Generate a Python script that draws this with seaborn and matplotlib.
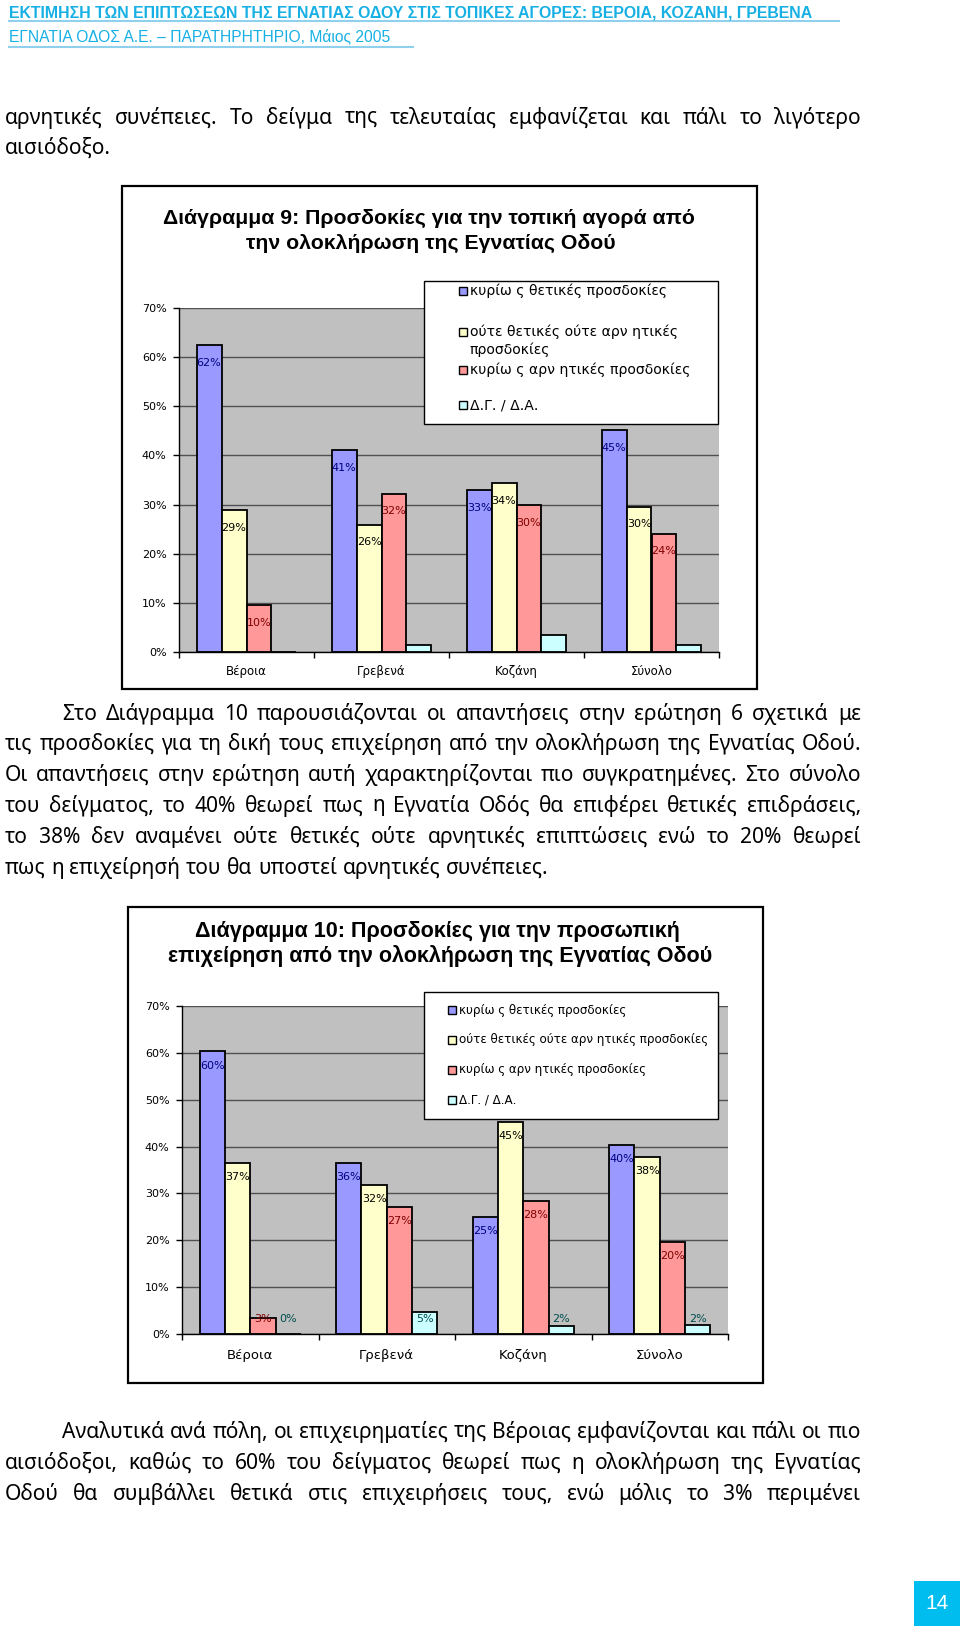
import numpy as np
import pandas as pd
import matplotlib.pyplot as plt
import seaborn as sb
from matplotlib.patches import Rectangle
from matplotlib.lines import Line2D

# ---- data ----
cities = ['Βέροια', 'Γρεβενά', 'Κοζάνη', 'Σύνολο']
series = ['θετικές', 'ουδέτερες', 'αρνητικές', 'ΔΓ/ΔΑ']
legend_labels = ['κυρίω ς θετικές προσδοκίες',
                 'ούτε θετικές ούτε αρν ητικές προσδοκίες',
                 'κυρίω ς αρν ητικές προσδοκίες',
                 'Δ.Γ. / Δ.Α.']
bar_colors = ['#9999ff', '#ffffcc', '#ff9999', '#ccffff']
label_colors = ['#000080', '#000000', '#800000', '#004d4d']

# Διάγραμμα 9
pos9 = [62.4, 41.1, 32.9, 45.2]
neu9 = [28.8, 25.9, 34.4, 29.6]
neg9 = [9.6, 32.2, 29.9, 24.1]
na9 = [0.0, 1.5, 3.4, 1.5]

# Διάγραμμα 10
pos10 = [60.3, 36.4, 25.0, 40.4]
neu10 = [36.6, 31.8, 45.3, 37.7]
neg10 = [3.4, 27.2, 28.3, 19.6]
na10 = [0.0, 4.7, 1.7, 2.0]

W, H = 960, 1626
plt.rcParams['font.family'] = ['DejaVu Sans']
fig = plt.figure(figsize=(W / 100, H / 100), dpi=100)
renderer = fig.canvas.get_renderer()

BODY_FONT = ['Noto Sans', 'DejaVu Sans']


def fx(x):
    return x / W


def fy(y):
    return 1 - y / H


def txt(x, y, s, **kw):
    kw.setdefault('va', 'center')
    return fig.text(fx(x), fy(y), s, **kw)


def width_of(t):
    return t.get_window_extent(renderer=renderer).width


def fit(x, y, s, target, **kw):
    t = txt(x, y, s, fontsize=10, **kw)
    t.set_fontsize(10 * target / width_of(t))
    return t


def measure(s, size, **kw):
    t = txt(0, 0, s, fontsize=size, **kw)
    w = width_of(t)
    t.remove()
    return w


def justify(line, x0, x1, y, size, **kw):
    words = line.split()
    ts = [txt(0, y, w, fontsize=size, ha='left', **kw) for w in words]
    ws = [width_of(t) for t in ts]
    if x1 is None or len(words) < 2:
        gap = measure('a a', size, **kw) - measure('aa', size, **kw)
    else:
        gap = (x1 - x0 - sum(ws)) / (len(words) - 1)
    x = x0
    for t, w in zip(ts, ws):
        t.set_position((fx(x), fy(y)))
        x += w + gap


# ---- header ----
head_col = '#17b0e4'
fit(9, 13, 'ΕΚΤΙΜΗΣΗ ΤΩΝ ΕΠΙΠΤΩΣΕΩΝ ΤΗΣ ΕΓΝΑΤΙΑΣ ΟΔΟΥ ΣΤΙΣ ΤΟΠΙΚΕΣ ΑΓΟΡΕΣ: ΒΕΡΟΙΑ, ΚΟΖΑΝΗ, ΓΡΕΒΕΝΑ',
    800, color=head_col, fontweight='bold', family=['Liberation Sans', 'DejaVu Sans'])
fit(9, 36, 'ΕΓΝΑΤΙΑ ΟΔΟΣ Α.Ε. – ΠΑΡΑΤΗΡΗΤΗΡΙΟ, Μάιος 2005',
    380, color=head_col, family=['Liberation Sans', 'DejaVu Sans'])
fig.add_artist(Line2D([fx(9), fx(839)], [fy(21), fy(21)], color='#8fd0ec', lw=1.5))
fig.add_artist(Line2D([fx(9), fx(413)], [fy(47), fy(47)], color='#8fd0ec', lw=1.5))

# ---- body text ----
body_size = 10 * 542 / measure('πως η επιχείρησή του θα υποστεί αρνητικές συνέπειες.', 10,
                               family=BODY_FONT)

body = [
    ('αρνητικές συνέπειες. Το δείγμα της τελευταίας εμφανίζεται και πάλι το λιγότερο', 5, 861, 118),
    ('αισιόδοξο.', 5, None, 148),
    ('Στο Διάγραμμα 10 παρουσιάζονται οι απαντήσεις στην ερώτηση 6 σχετικά με', 62, 861, 714),
    ('τις προσδοκίες για τη δική τους επιχείρηση από την ολοκλήρωση της Εγνατίας Οδού.', 5, 861, 744),
    ('Οι απαντήσεις στην ερώτηση αυτή χαρακτηρίζονται πιο συγκρατημένες. Στο σύνολο', 5, 861, 775),
    ('του δείγματος, το 40% θεωρεί πως η Εγνατία Οδός θα επιφέρει θετικές επιδράσεις,', 5, 861, 806),
    ('το 38% δεν αναμένει ούτε θετικές ούτε αρνητικές επιπτώσεις ενώ το 20% θεωρεί', 5, 861, 837),
    ('πως η επιχείρησή του θα υποστεί αρνητικές συνέπειες.', 5, None, 868),
    ('Αναλυτικά ανά πόλη, οι επιχειρηματίες της Βέροιας εμφανίζονται και πάλι οι πιο', 62, 861, 1432),
    ('αισιόδοξοι, καθώς το 60% του δείγματος θεωρεί πως η ολοκλήρωση της Εγνατίας', 5, 861, 1463),
    ('Οδού θα συμβάλλει θετικά στις επιχειρήσεις τους, ενώ μόλις το 3% περιμένει', 5, 861, 1494),
]
for line, x0, x1, y in body:
    justify(line, x0, x1, y, body_size, family=BODY_FONT)


# ---- charts ----
def chart(box, area, titles, vals, off, floor, label_mask, leg_box, leg_rows, leg_marker_x,
          leg_text_x, leg_fit, tick_fs, cat_fs, cat_pad):
    bx0, by0, bx1, by1 = box
    fig.add_artist(Rectangle((fx(bx0), fy(by1)), (bx1 - bx0) / W, (by1 - by0) / H,
                             transform=fig.transFigure, fill=False, ec='black', lw=1.6))
    # title
    (t1, c1, y1), (t2, c2, y2), (fit_idx, fit_w) = titles
    tt = []
    for s, c, y in [(t1, c1, y1), (t2, c2, y2)]:
        tt.append(txt(c, y, s, ha='center', fontsize=10, fontweight='bold', family='Liberation Sans'))
    size = 10 * fit_w / width_of(tt[fit_idx])
    for t in tt:
        t.set_fontsize(size)

    ax0, ay0, ax1, ay1 = area
    ax = fig.add_axes([fx(ax0), fy(ay1), (ax1 - ax0) / W, (ay1 - ay0) / H])
    df = pd.DataFrame({
        'city': cities * 4,
        'series': [s for s in series for _ in cities],
        'value': [v for vs in vals for v in vs],
    })
    sb.barplot(data=df, x='city', y='value', hue='series', hue_order=series, order=cities,
               palette=bar_colors, saturation=1, edgecolor='black', linewidth=1.3,
               width=0.74, legend=False, ax=ax)
    ax.set_facecolor('#c0c0c0')
    ax.set_ylim(0, 70)
    ax.set_xlim(-0.5, 3.5)
    ax.set_yticks(range(0, 71, 10))
    ax.set_yticklabels([f'{v}%' for v in range(0, 71, 10)], fontsize=tick_fs)
    ax.set_xticklabels(cities, fontsize=cat_fs)
    ax.set_xticks([-0.5, 0.5, 1.5, 2.5, 3.5], minor=True)
    ax.tick_params(axis='x', which='major', length=0, pad=cat_pad)
    ax.tick_params(axis='x', which='minor', length=4, width=1)
    ax.tick_params(axis='y', length=4, width=1, pad=5)
    ax.yaxis.grid(True, color='#505050', lw=1)
    ax.set_axisbelow(True)
    ax.set_xlabel('')
    ax.set_ylabel('')
    for sp in ['top', 'right']:
        ax.spines[sp].set_visible(False)
    for sp in ['left', 'bottom']:
        ax.spines[sp].set_color('black')
        ax.spines[sp].set_linewidth(1)

    for i, cont in enumerate(ax.containers):
        if not label_mask[i]:
            continue
        for patch in cont.patches:
            h = patch.get_height()
            xc = patch.get_x() + patch.get_width() / 2
            ax.text(xc, max(h - off, floor), f'{round(h)}%', ha='center', va='center',
                    fontsize=8, color=label_colors[i], clip_on=False, zorder=5)

    # legend
    lx0, ly0, lx1, ly1 = leg_box
    fig.add_artist(Rectangle((fx(lx0), fy(ly1)), (lx1 - lx0) / W, (ly1 - ly0) / H,
                             transform=fig.transFigure, fc='white', ec='black', lw=1, zorder=5))
    fit_row, fit_width = leg_fit
    texts = []
    for s, y, marker in leg_rows:
        texts.append(txt(leg_text_x, y, s, fontsize=10, ha='left', zorder=6))
        if marker is not None:
            fig.add_artist(Rectangle((fx(leg_marker_x - 4), fy(y + 4)), 8 / W, 8 / H,
                                     transform=fig.transFigure, fc=bar_colors[marker],
                                     ec='black', lw=1, zorder=6))
    lsize = 10 * fit_width / width_of(texts[fit_row])
    for t in texts:
        t.set_fontsize(lsize)
    return ax


chart(box=(122, 186, 757, 689), area=(179, 308, 719, 652),
      titles=(('Διάγραμμα 9: Προσδοκίες για την τοπική αγορά από', 429, 218),
              ('την ολοκλήρωση της Εγνατίας Οδού', 431, 243), (0, 532)),
      vals=[pos9, neu9, neg9, na9], off=3.6, floor=3.2, label_mask=[True, True, True, False],
      leg_box=(424, 281, 718, 424),
      leg_rows=[(legend_labels[0], 291, 0),
                ('ούτε θετικές ούτε αρν ητικές', 332, 1),
                ('προσδοκίες', 350, None),
                (legend_labels[2], 370, 2),
                (legend_labels[3], 405, 3)],
      leg_marker_x=463, leg_text_x=470, leg_fit=(0, 197), tick_fs=8, cat_fs=8.5, cat_pad=9)

chart(box=(128, 907, 763, 1383), area=(182, 1006, 728, 1334),
      titles=(('Διάγραμμα 10: Προσδοκίες για την προσωπική', 437, 931),
              ('επιχείρηση από την ολοκλήρωση της Εγνατίας Οδού', 440, 956), (1, 543)),
      vals=[pos10, neu10, neg10, na10], off=3.0, floor=3.2, label_mask=[True, True, True, True],
      leg_box=(424, 992, 718, 1119),
      leg_rows=[(legend_labels[0], 1010, 0),
                (legend_labels[1], 1040, 1),
                (legend_labels[2], 1070, 2),
                (legend_labels[3], 1100, 3)],
      leg_marker_x=452, leg_text_x=459, leg_fit=(1, 249), tick_fs=8, cat_fs=9.5, cat_pad=11)

# ---- page number ----
fig.add_artist(Rectangle((fx(914), fy(1626)), 46 / W, 45 / H, transform=fig.transFigure,
                         fc='#00bdf0', ec='none'))
txt(937, 1603, '14', ha='center', fontsize=15, color='white',
    family=['Liberation Sans', 'DejaVu Sans'])

fig.savefig('out.png', dpi=100, facecolor='white')
